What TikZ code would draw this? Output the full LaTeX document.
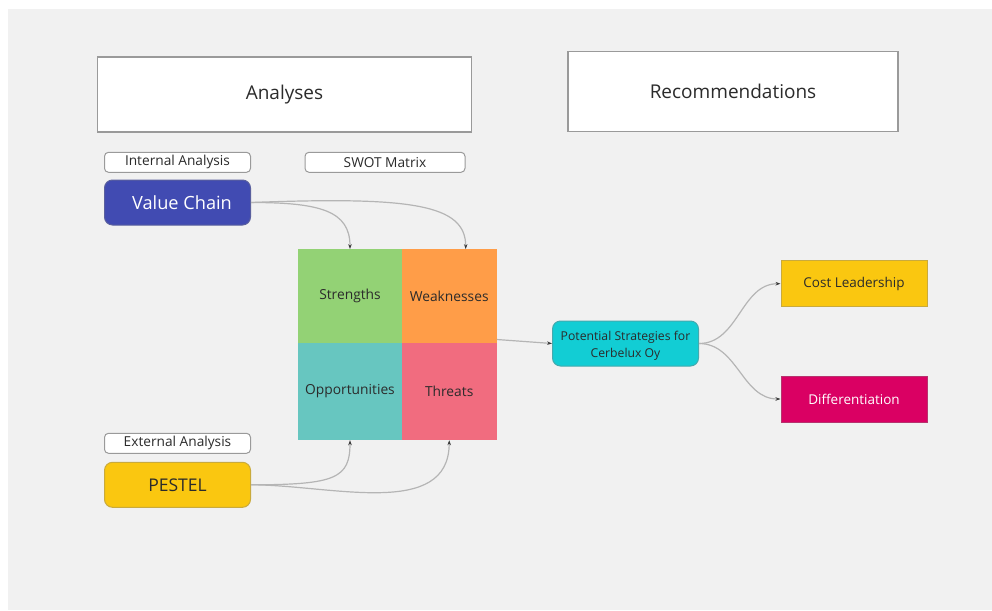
\documentclass[tikz,border=0pt]{standalone}
\usepackage{fontspec}
\setmainfont{Open Sans}
\usetikzlibrary{arrows.meta}
\definecolor{bg}{HTML}{F1F1F1}
\definecolor{txt}{HTML}{2B2B2B}
\definecolor{frame}{HTML}{9A9A9A}
\definecolor{link}{HTML}{B5B5B5}
\definecolor{tip}{HTML}{3A3A3A}
\definecolor{cBlue}{HTML}{414BB2}
\definecolor{cGreen}{HTML}{93D275}
\definecolor{cOrange}{HTML}{FF9D48}
\definecolor{cTeal}{HTML}{67C6C0}
\definecolor{cPink}{HTML}{F16C7F}
\definecolor{cCyan}{HTML}{12CDD4}
\definecolor{cYellow}{HTML}{FAC710}
\definecolor{cMagenta}{HTML}{DA0063}
\begin{document}
\begin{tikzpicture}[x=1pt,y=-1pt,
  titlebox/.style={draw=frame, line width=1.1pt, fill=white, inner sep=0, text=txt,
     font=\fontsize{19}{23}\selectfont},
  tagbox/.style={draw=frame, line width=1pt, fill=white, rounded corners=4pt, inner sep=0,
     text=txt, minimum width=146, minimum height=20, font=\fontsize{13.7}{16}\selectfont},
  mainbox/.style={draw=#1!60!gray, line width=1pt, fill=#1, rounded corners=8pt, inner sep=0,
     minimum width=146, minimum height=45, text=txt, font=\fontsize{17.5}{21}\selectfont},
  cell/.style={fill=#1, inner sep=0, text=txt, font=\fontsize{13.8}{16}\selectfont},
  stratbox/.style={draw=#1!60!gray, line width=1pt, fill=#1, inner sep=0,
     minimum width=146, minimum height=46, text=txt, font=\fontsize{13.5}{16}\selectfont},
  link/.style={draw=link, line width=1.2pt,
     -{Stealth[length=5pt,width=3.5pt,color=tip]}}
]
\useasboundingbox (0,0) rectangle (992,610);
\fill[bg] (8,9) rectangle (992,610);

% headers
\node[titlebox, minimum width=374, minimum height=75] (an) at (284.5,94.5) {Analyses};
\node[titlebox, minimum width=330, minimum height=80] (rec) at (733,91.5) {Recommendations};

% tags
\node[tagbox] (ia) at (177.5,162.3) {Internal Analysis};
\node[tagbox, minimum width=160] (sw) at (385,162.3) {SWOT Matrix};
\node[tagbox] (ea) at (177.5,443.3) {External Analysis};

% sources
\node[mainbox=cBlue, text=white, font=\fontsize{18.2}{21}\selectfont] (vc) at (177.5,202.5) {\hspace*{9pt}Value Chain};
\node[mainbox=cYellow] (pe) at (177.5,484.8) {PESTEL};

% SWOT grid
\node[cell=cGreen, minimum width=103.4, minimum height=93.4] (s) at (350,296) {Strengths};
\node[cell=cOrange, minimum width=95, minimum height=93.4] (w) at (449.2,296) {Weaknesses};
\node[cell=cTeal, minimum width=103.4, minimum height=97.3] (o) at (350,391.35) {Opportunities};
\node[cell=cPink, minimum width=95, minimum height=97.3] (t) at (449.2,391.35) {Threats};

% strategies
\node[draw=cCyan!55!gray, line width=1pt, fill=cCyan, rounded corners=8pt, inner sep=0,
  minimum width=146, minimum height=45, text=txt, align=center,
  font=\fontsize{12.2}{16.7}\selectfont] (ps) at (625.5,343.5) {\raisebox{-2pt}[\height][\depth]{\shortstack{Potential Strategies for\\[1.5pt]Cerbelux Oy}}};
\node[stratbox=cYellow] (cl) at (854,283.7) {Cost Leadership};
\node[stratbox=cMagenta, text=white] (df) at (854,399) {Differentiation};

% connectors
\draw[link] (vc.east) .. controls +(70,0) and +(0,-38) .. (s.north);
\draw[link] (vc.east) .. controls +(160,-6) and +(0,-45) .. ([xshift=16.5]w.north);
\draw[link] (pe.east) .. controls +(85,0) and +(0,38) .. (o.south);
\draw[link] (pe.east) to[out=0,in=-90] (t.south);
\draw[link] ([yshift=3]t.north east) -- (ps.west);
\draw[link] (ps.east) to[out=0,in=180] (cl.west);
\draw[link] (ps.east) to[out=0,in=180] (df.west);
\end{tikzpicture}
\end{document}
